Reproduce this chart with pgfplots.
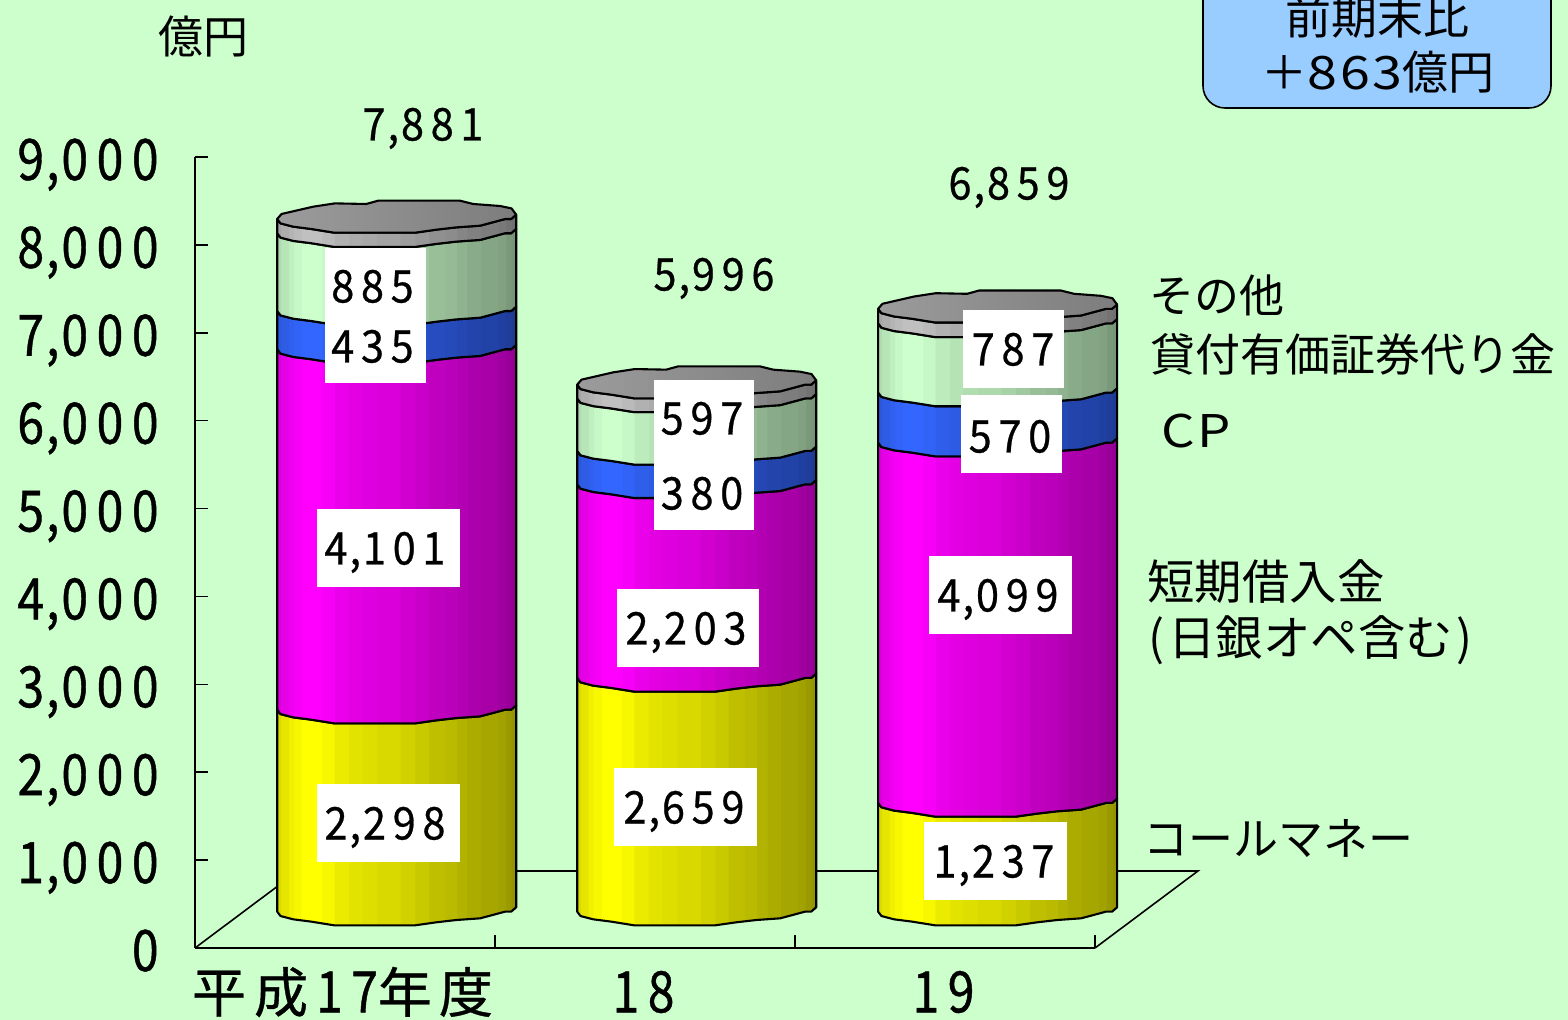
\documentclass[border=0pt]{standalone}
\usepackage{fontspec}
\usepackage{pgfplots}
\usepackage{pgfplotstable}
\pgfplotsset{compat=1.18}
\setmainfont{Noto Sans CJK JP}
\newfontfamily\numf[LetterSpace=15,FakeStretch=0.92,FakeBold=0.6]{Noto Sans CJK JP}
\newfontfamily\tickf[LetterSpace=15,FakeStretch=0.84,FakeBold=0.7]{Noto Sans CJK JP}
\newfontfamily\widef[LetterSpace=6,FakeStretch=1.17]{Noto Sans CJK JP}
\newfontfamily\heavy[FakeBold=0.7]{Noto Sans CJK JP}
\definecolor{bg}{RGB}{204,255,204}
\definecolor{cy}{RGB}{255,255,0}
\definecolor{cm}{RGB}{255,0,255}
\definecolor{cb}{RGB}{51,102,255}
\definecolor{cg}{RGB}{204,255,204}
\definecolor{cl}{RGB}{192,192,192}
\definecolor{boxb}{RGB}{153,204,255}
\newcommand\mkshade[2]{%
\pgfdeclarehorizontalshading{#1}{100bp}{%
color(0bp)=(#2!86!black);color(25.7bp)=(#2!86!black);color(25.75bp)=(#2!90!black);color(27.3bp)=(#2!90!black);color(27.35bp)=(#2!94!black);color(28.35bp)=(#2!94!black);%
color(28.4bp)=(#2!97!black);color(30bp)=(#2!97!black);color(30.05bp)=(#2);color(34.3bp)=(#2);color(34.35bp)=(#2!97!black);color(36.9bp)=(#2!97!black);%
color(36.95bp)=(#2!92!black);color(39.9bp)=(#2!92!black);color(39.95bp)=(#2!89!black);color(42.7bp)=(#2!89!black);color(42.75bp)=(#2!87!black);color(45.8bp)=(#2!87!black);%
color(45.85bp)=(#2!85!black);color(50.7bp)=(#2!85!black);color(50.75bp)=(#2!82!black);color(53.8bp)=(#2!82!black);color(53.85bp)=(#2!79!black);color(56.6bp)=(#2!79!black);%
color(56.65bp)=(#2!75!black);color(60bp)=(#2!75!black);color(60.05bp)=(#2!73!black);color(62.6bp)=(#2!73!black);color(62.65bp)=(#2!70!black);color(64.7bp)=(#2!70!black);%
color(64.75bp)=(#2!67!black);color(67.5bp)=(#2!67!black);color(67.55bp)=(#2!65!black);color(71.1bp)=(#2!65!black);color(71.15bp)=(#2!63!black);color(72.7bp)=(#2!63!black);%
color(72.75bp)=(#2!60!black);color(74.1bp)=(#2!60!black);color(74.15bp)=(#2!58!black);color(100bp)=(#2!58!black)}}
\mkshade{shY}{cy}\mkshade{shM}{cm}\mkshade{shB}{cb}\mkshade{shG}{cg}\mkshade{shL}{cl}
\pgfdeclarehorizontalshading{shT}{100bp}{color(0bp)=(black!39);color(25bp)=(black!39);color(75bp)=(black!51);color(100bp)=(black!51)}
\pgfplotstableread{
t d up
0 13.7 0
3.3 9.3 0
16 6 0
34 3.7 0
57 0 0
138 0 0
159 3 0
179 5.3 0
203 7 0
228 13.7 0
234 13.7 0
239 18 0
239 18 1
234 13.7 1
228 13.7 1
203 7 1
179 5.3 1
159 3 1
138 0 1
57 0 1
34 3.7 1
16 6 1
3.3 9.3 1
0 13.7 1
}\segtable
\pgfplotstableread{
t d
0 13.7
3.3 9.3
16 6
34 3.7
57 0
138 0
159 3
179 5.3
203 7
228 13.7
234 13.7
239 18
234.3 24.3
222.7 26.7
196 28.7
182.7 32
101 32
89 28.7
57.7 29.3
36 26
4.3 18.7
}\lidtable
\newcommand\seg[4]{\addplot[draw=black,line width=1.05pt,line join=round,shade,shading=#4,forget plot]
  table[x expr={#1+\thisrow{t}/300},y expr={258+#2+(#3-#2)*\thisrow{up}+\thisrow{d}/0.0879}]{\segtable} -- cycle;}
\newcommand\lid[2]{\addplot[draw=black,line width=1.05pt,line join=round,shade,shading=shT,forget plot]
  table[x expr={#1+\thisrow{t}/300},y expr={258+#2+\thisrow{d}/0.0879}]{\lidtable} -- cycle;}
\newcommand\cm{\kern1pt,\kern1pt}
\newcommand\vlab[3]{\node[font=\fontsize{22.5}{22.5}\numf,anchor=base,inner sep=0pt] at (#1,#2+16.5) {#3};}
\newcommand\jlab[4][22.5]{\node[font=\fontsize{#1}{#1}\selectfont,anchor=west,inner sep=0pt] at (#2,#3) {#4};}
\begin{document}
\begin{tikzpicture}[x=0.5pt,y=-0.5pt]
\path[use as bounding box] (0,0) rectangle (1568,1020);
\clip (0,0) rectangle (1568,1020);
\fill[bg] (0,0) rectangle (1568,1020);
\draw[fill=boxb,line width=0.8pt,rounded corners=11pt] (1203,-40) rectangle (1551,108);
\begin{axis}[at={(97.5pt,-474pt)},anchor=south west,scale only axis,width=450pt,height=395.5pt,
 xmin=0,xmax=3,ymin=0,ymax=9000,clip=false,
 axis x line=bottom,axis y line=left,axis line style={-,line width=0.8pt},
 tick style={black,line width=0.8pt},tick align=inside,major tick length=6.5pt,
 ytick={0,1000,...,9000},
 xtick={1,2,3},xticklabels={},
 extra x ticks={0.4917,1.495,2.495},
 extra x tick labels={{\heavy\fontsize{27}{27}\selectfont 平\kern4pt 成\kern4pt{\tickf\fontsize{28.6}{28.6}\selectfont 17}年\kern3.5pt 度},18,19},
 extra x tick style={major tick length=0pt,tick style={draw=none}},
 /pgf/number format/assume math mode=true,
 /pgf/number format/1000 sep={\kern1pt,\kern1pt},
 yticklabel style={font=\fontsize{28.6}{28.6}\tickf,anchor=base east,xshift=-18pt,yshift=-11.5pt,inner sep=0pt},
 xticklabel style={font=\fontsize{28.6}{28.6}\tickf,anchor=center,yshift=-22pt,inner sep=0pt},
]
\addplot[black,line width=0.8pt,forget plot] coordinates {(0,0) (0.343,876) (3.343,876) (3,0)};
\seg{0.274}{0}{2298}{shY}
\seg{0.274}{2298}{6399}{shM}
\seg{0.274}{6399}{6834}{shB}
\seg{0.274}{6834}{7719}{shG}
\seg{0.274}{7719}{7881}{shL}
\lid{0.274}{7881}
\seg{1.274}{0}{2659}{shY}
\seg{1.274}{2659}{4862}{shM}
\seg{1.274}{4862}{5242}{shB}
\seg{1.274}{5242}{5839}{shG}
\seg{1.274}{5839}{5996}{shL}
\lid{1.274}{5996}
\seg{2.277}{0}{1237}{shY}
\seg{2.277}{1237}{5336}{shM}
\seg{2.277}{5336}{5906}{shB}
\seg{2.277}{5906}{6693}{shG}
\seg{2.277}{6693}{6859}{shL}
\lid{2.277}{6859}
\end{axis}
\fill[white] (325,248) rectangle (426,383);
\fill[white] (317,509) rectangle (460,587);
\fill[white] (317,784) rectangle (460,862);
\fill[white] (654,380) rectangle (754,530);
\fill[white] (617,589) rectangle (759,667);
\fill[white] (614,768) rectangle (757,846);
\fill[white] (963,310) rectangle (1064,388);
\fill[white] (961,395) rectangle (1062,473);
\fill[white] (929,556) rectangle (1072,634);
\fill[white] (924,822) rectangle (1067,900);
\vlab{372.5}{286}{885}
\vlab{372.5}{346}{435}
\vlab{385}{548}{4\cm101}
\vlab{385}{823}{2\cm298}
\vlab{702}{418}{597}
\vlab{702}{493}{380}
\vlab{686}{628}{2\cm203}
\vlab{684}{807}{2\cm659}
\vlab{1013}{349}{787}
\vlab{1010}{436}{570}
\vlab{998}{595}{4\cm099}
\vlab{994}{861}{1\cm237}
\vlab{423}{124}{7\cm881}
\vlab{714}{274}{5\cm996}
\vlab{1009}{183}{6\cm859}
\jlab{158}{37}{億円}
\jlab{1149}{295}{その他}
\jlab{1150}{354}{貸付有価証券代り金}
\node[font=\fontsize{22.5}{22.5}\widef,anchor=west,inner sep=0pt] at (1161,431) {CP};
\jlab[23.7]{1147}{582}{短期借入金}
\jlab[23.7]{1148}{640}{(\kern2pt 日銀オペ含む\kern2pt)}
\jlab{1143}{838}{コールマネー}
\node[font=\fontsize{23}{23}\selectfont,inner sep=0pt] at (1377,17) {前期末比};
\node[font=\fontsize{23}{23}\selectfont,inner sep=0pt] at (1378,72) {＋{\widef 863}億円};
\end{tikzpicture}
\end{document}
